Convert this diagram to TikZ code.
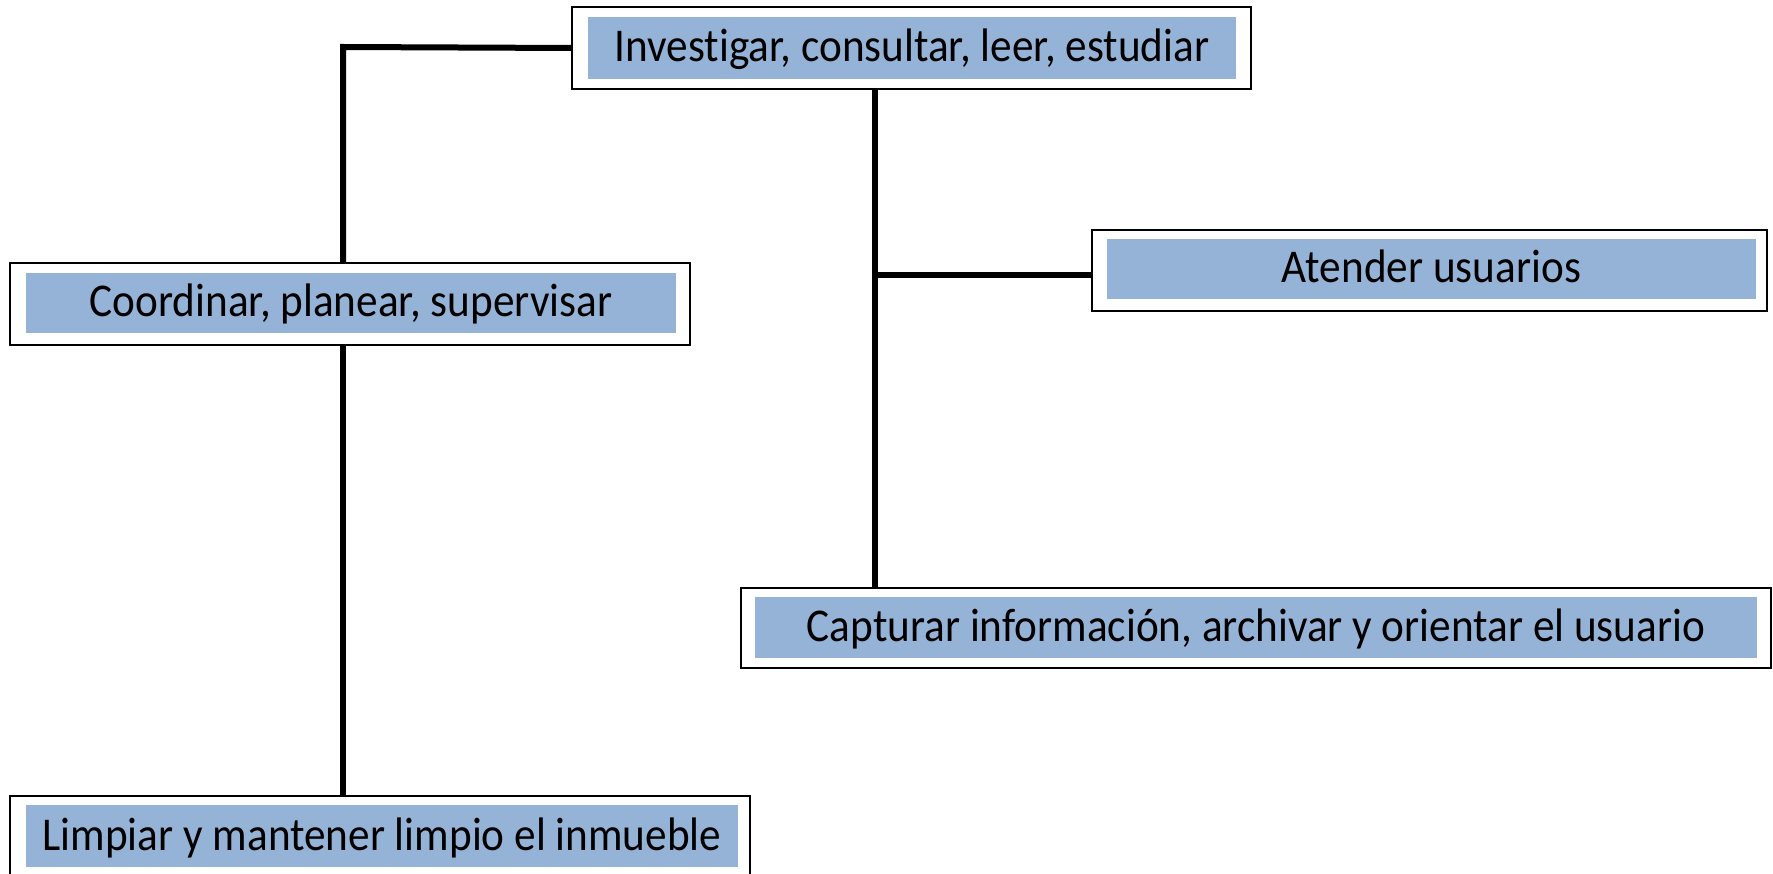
\documentclass[tikz,border=0pt]{standalone}
\usepackage{fontspec}
\setmainfont[Ligatures={NoCommon}, FakeStretch=0.92]{Carlito}
\definecolor{boxblue}{RGB}{149,179,215}
\tikzset{
  outerbox/.style={draw=black, line width=1.3pt, fill=white, inner sep=0pt, rectangle},
  innerbox/.style={fill=boxblue, inner sep=0pt, rectangle, font=\fontsize{47}{52}\selectfont, text height=36pt, text depth=8pt},
  link/.style={line width=6pt, draw=black}
}
\begin{document}
\begin{tikzpicture}[x=1pt, y=-1pt]
\useasboundingbox (0,0) rectangle (1773,874);
% outer frames
\node[outerbox, minimum width=679pt, minimum height=82pt] (b1o) at (911.5,48) {};
\node[outerbox, minimum width=680pt, minimum height=82pt] (b2o) at (350,304) {};
\node[outerbox, minimum width=740pt, minimum height=80pt] (b3o) at (380,836) {};
\node[outerbox, minimum width=675pt, minimum height=81pt] (b4o) at (1429.5,270.5) {};
\node[outerbox, minimum width=1030pt, minimum height=80pt] (b5o) at (1256,628) {};
% inner blue boxes with text
\node[innerbox, minimum width=648pt, minimum height=62pt] (b1) at (912,48) {Investigar, consultar, leer, estudiar};
\node[innerbox, minimum width=650pt, minimum height=60pt] (b2) at (351,303) {Coordinar, planear, supervisar};
\node[innerbox, minimum width=712pt, minimum height=62pt] (b3) at (382,836) {Limpiar y mantener limpio el inmueble};
\node[innerbox, minimum width=649pt, minimum height=60pt] (b4) at (1431.5,269) {Atender usuarios};
\node[innerbox, minimum width=1002pt, minimum height=61pt] (b5) at (1256,627.5) {Capturar información, archivar y orientar el usuario};
% junctions
\coordinate (j1) at (343,47);
\coordinate (j2) at (875,275);
% connectors
\draw[link] (b1o.west) -- (j1) -- (j1 |- b2o.north);
\draw[link] (j1 |- b2o.south) -- (j1 |- b3o.north);
\draw[link] (j2 |- b1o.south) -- (j2 |- b5o.north);
\draw[link] (j2) -- (j2 -| b4o.west);
\end{tikzpicture}
\end{document}
